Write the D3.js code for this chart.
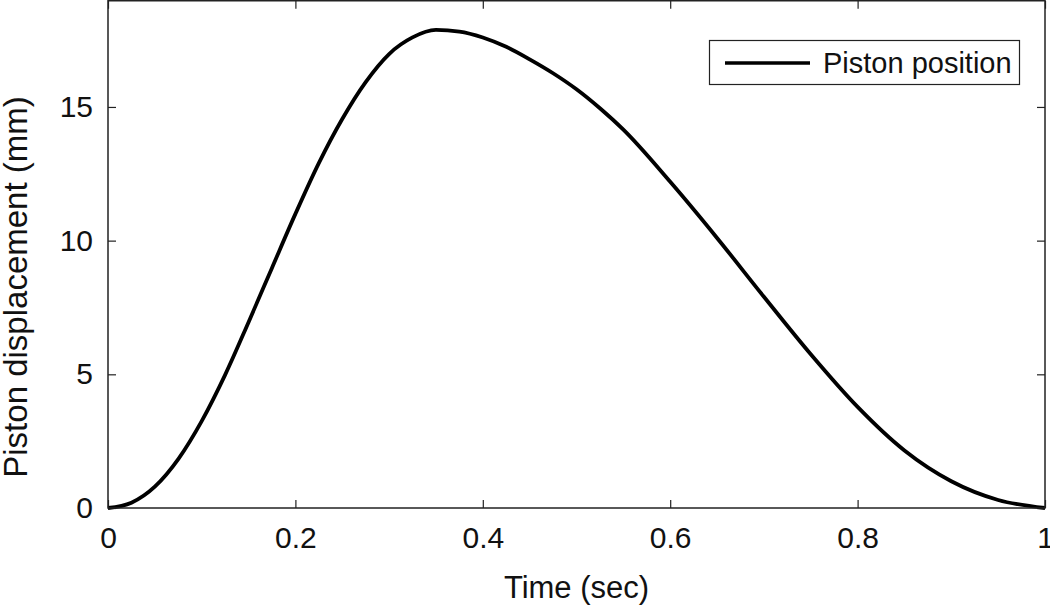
<!DOCTYPE html>
<html>
<head>
<meta charset="utf-8">
<script src="https://cdn.jsdelivr.net/npm/d3@7"></script>
<style>
  html, body { margin: 0; padding: 0; background: #fff; }
  svg { display: block; font-family: "Liberation Sans", Arial, Helvetica, sans-serif; }
</style>
</head>
<body>
<script>
 // piston position (every 0.025 s, then 0.05 s)
 const time_s = [0, 0.025, 0.05, 0.075, 0.1, 0.125, 0.15, 0.175, 0.2, 0.225, 0.25,
    0.275, 0.3, 0.325, 0.35, 0.375, 0.4, 0.425, 0.45, 0.475, 0.5, 0.525, 0.55,
    0.6, 0.65, 0.7, 0.75, 0.8, 0.85, 0.9, 0.95, 1.0];
 const disp_mm = [0, 0.2, 0.8, 1.83, 3.25, 4.98, 6.95, 8.98, 11.0, 12.9, 14.55,
    15.93, 16.98, 17.6, 17.88, 17.82, 17.6, 17.25, 16.78, 16.26, 15.66, 14.95, 14.15,
    12.2, 10.1, 7.9, 5.75, 3.78, 2.15, 1.0, 0.3, 0];

 const xTicks = [0, 0.2, 0.4, 0.6, 0.8, 1];
 const xTickLabels = ['0', '0.2', '0.4', '0.6', '0.8', '1'];
 const yTicks = [0, 5, 10, 15];
 const seriesName = 'Piston position';

 const data = time_s.map((t, i) => ({ t: t, v: disp_mm[i] }));

 // constants
 const width = 1050;
 const height = 611;
 const plot = { left: 108, right: 1045, top: 0.75, bottom: 508 };
 const axisColor = '#222';

 const svg = d3.select('body').append('svg')
       .attr('width', width).attr('height', height);

 const xScale = d3.scaleLinear().domain([0, 1]).range([plot.left, plot.right]);
 const yScale = d3.scaleLinear().domain([0, 19]).range([plot.bottom, 0]);

 // bottom axis with labels, ticks pointing in
 const xAxis = svg.append('g')
    .attr('transform', `translate(0, ${plot.bottom})`)
    .call(d3.axisBottom(xScale).tickValues(xTicks)
       .tickFormat((d, i) => xTickLabels[i])
       .tickSizeInner(-8).tickSizeOuter(0).tickPadding(19))
 xAxis.select('.domain').remove()
 xAxis.selectAll('line').attr('stroke', axisColor).attr('stroke-width', 1.2)
 xAxis.selectAll('text').attr('font-size', 30).attr('fill', '#111').attr('font-family', null)

 // top ticks
 const xTop = svg.append('g')
    .attr('transform', `translate(0, ${plot.top})`)
    .call(d3.axisTop(xScale).tickValues(xTicks).tickFormat('')
       .tickSizeInner(-8).tickSizeOuter(0))
 xTop.select('.domain').remove()
 xTop.selectAll('line').attr('stroke', axisColor).attr('stroke-width', 1.2)

 // left axis
 const yAxis = svg.append('g')
    .attr('transform', `translate(${plot.left}, 0)`)
    .call(d3.axisLeft(yScale).tickValues(yTicks)
       .tickSizeInner(-8).tickSizeOuter(0).tickPadding(15))
 yAxis.select('.domain').remove()
 yAxis.selectAll('line').attr('stroke', axisColor).attr('stroke-width', 1.2)
 yAxis.selectAll('text').attr('font-size', 30).attr('fill', '#111').attr('font-family', null)

 // right ticks
 const yRight = svg.append('g')
    .attr('transform', `translate(${plot.right}, 0)`)
    .call(d3.axisRight(yScale).tickValues(yTicks).tickFormat('')
       .tickSizeInner(-8).tickSizeOuter(0))
 yRight.select('.domain').remove()
 yRight.selectAll('line').attr('stroke', axisColor).attr('stroke-width', 1.2)

 // the curve
 const line = d3.line().x((d) => xScale(d.t)).y((d) => yScale(d.v))
    .curve(d3.curveMonotoneX)
 svg.append('path').datum(data)
    .attr('d', line)
    .attr('fill', 'none').attr('stroke', '#000')
    .attr('stroke-width', 3.8).attr('stroke-linejoin', 'round')

 // plot frame
 svg.append('rect')
    .attr('x', plot.left).attr('y', plot.top)
    .attr('width', plot.right - plot.left).attr('height', plot.bottom - plot.top)
    .attr('fill', 'none').attr('stroke', axisColor).attr('stroke-width', 1.5)

 // axis labels
 svg.append('text')
    .attr('x', (plot.left + plot.right) / 2).attr('y', 598)
    .attr('text-anchor', 'middle').attr('font-size', 31).attr('fill', '#111')
    .text('Time (sec)')
 svg.append('text')
    .attr('transform', 'translate(27, 287) rotate(-90)')
    .attr('text-anchor', 'middle').attr('font-size', 33).attr('fill', '#111')
    .text('Piston displacement (mm)')

 // legend
 const legend = svg.append('g')
 legend.append('rect')
    .attr('x', 709.5).attr('y', 40.5).attr('width', 310).attr('height', 44)
    .attr('fill', '#fff').attr('stroke', axisColor).attr('stroke-width', 1.2)
 legend.append('line')
    .attr('x1', 725).attr('x2', 810).attr('y1', 63).attr('y2', 63)
    .attr('stroke', '#000').attr('stroke-width', 3.6)
 legend.append('text')
    .attr('x', 823).attr('y', 73).attr('font-size', 29).attr('fill', '#111')
    .text(seriesName)
</script>
</body>
</html>
